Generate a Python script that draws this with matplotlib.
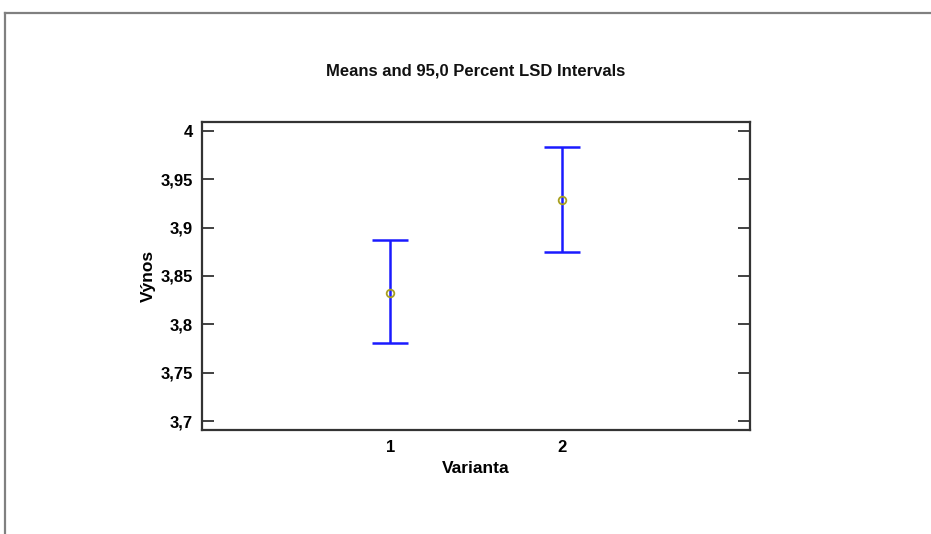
import matplotlib
matplotlib.use("Agg")
import matplotlib.pyplot as plt
from matplotlib.lines import Line2D

# Data
categories = [1, 2]
means = [3.8327, 3.9289]
lower = [3.7804, 3.8745]
upper = [3.8872, 3.9838]
yticks = [3.7, 3.75, 3.8, 3.85, 3.9, 3.95, 4.0]
ytick_labels = ["3,7", "3,75", "3,8", "3,85", "3,9", "3,95", "4"]
title = "Means and 95,0 Percent LSD Intervals"
xlabel = "Varianta"
ylabel = "Výnos"

plt.rcParams['font.family'] = ['Liberation Sans', 'DejaVu Sans']

W, H, DPI = 931, 534, 100
fig = plt.figure(figsize=(W / DPI, H / DPI), dpi=DPI)
fig.patch.set_facecolor('white')

# outer gray frame (top and left)
fig.add_artist(Line2D([5 / W, 1.0], [1 - 12.5 / H, 1 - 12.5 / H], transform=fig.transFigure,
                      color='#808080', lw=1.6))
fig.add_artist(Line2D([5 / W, 5 / W], [1 - 12.5 / H, 0.0], transform=fig.transFigure,
                      color='#808080', lw=1.6))

left, right, top, bottom = 201.7, 750.0, 121.7, 430.0
ax = fig.add_axes([left / W, 1 - bottom / H, (right - left) / W, (bottom - top) / H])

yerr_low = [m - l for m, l in zip(means, lower)]
yerr_up = [u - m for m, u in zip(means, upper)]
ax.errorbar(categories, means, yerr=[yerr_low, yerr_up], fmt='none',
            ecolor='#1a1aff', elinewidth=1.8, capsize=13, capthick=1.8, zorder=2)
ax.plot(categories, means, linestyle='none', marker='o', markersize=5.5,
        markerfacecolor='none', markeredgecolor='#a8a020', markeredgewidth=1.3, zorder=3)

ax.set_xlim(-0.1, 3.1)
ax.set_ylim(3.6907, 4.0096)
ax.set_xticks(categories)
ax.set_xticklabels([str(c) for c in categories], fontsize=12, fontweight='bold')
ax.set_yticks(yticks)
ax.set_yticklabels(ytick_labels, fontsize=12, fontweight='bold')

ax.tick_params(axis='y', direction='in', length=8.5, width=1.3, color='#333333',
               left=True, right=True, pad=6.5)
ax.tick_params(axis='x', length=0, pad=7)
for s in ax.spines.values():
    s.set_linewidth(1.6)
    s.set_color('#333333')

ax.set_title(title, fontsize=12, fontweight='bold', pad=33.5, color='#111111')
ax.set_xlabel(xlabel, fontsize=12.5, fontweight='bold', labelpad=4.5)
ax.set_ylabel(ylabel, fontsize=12.5, fontweight='bold', labelpad=3.5)

fig.savefig('out.png', dpi=DPI, facecolor='white')
